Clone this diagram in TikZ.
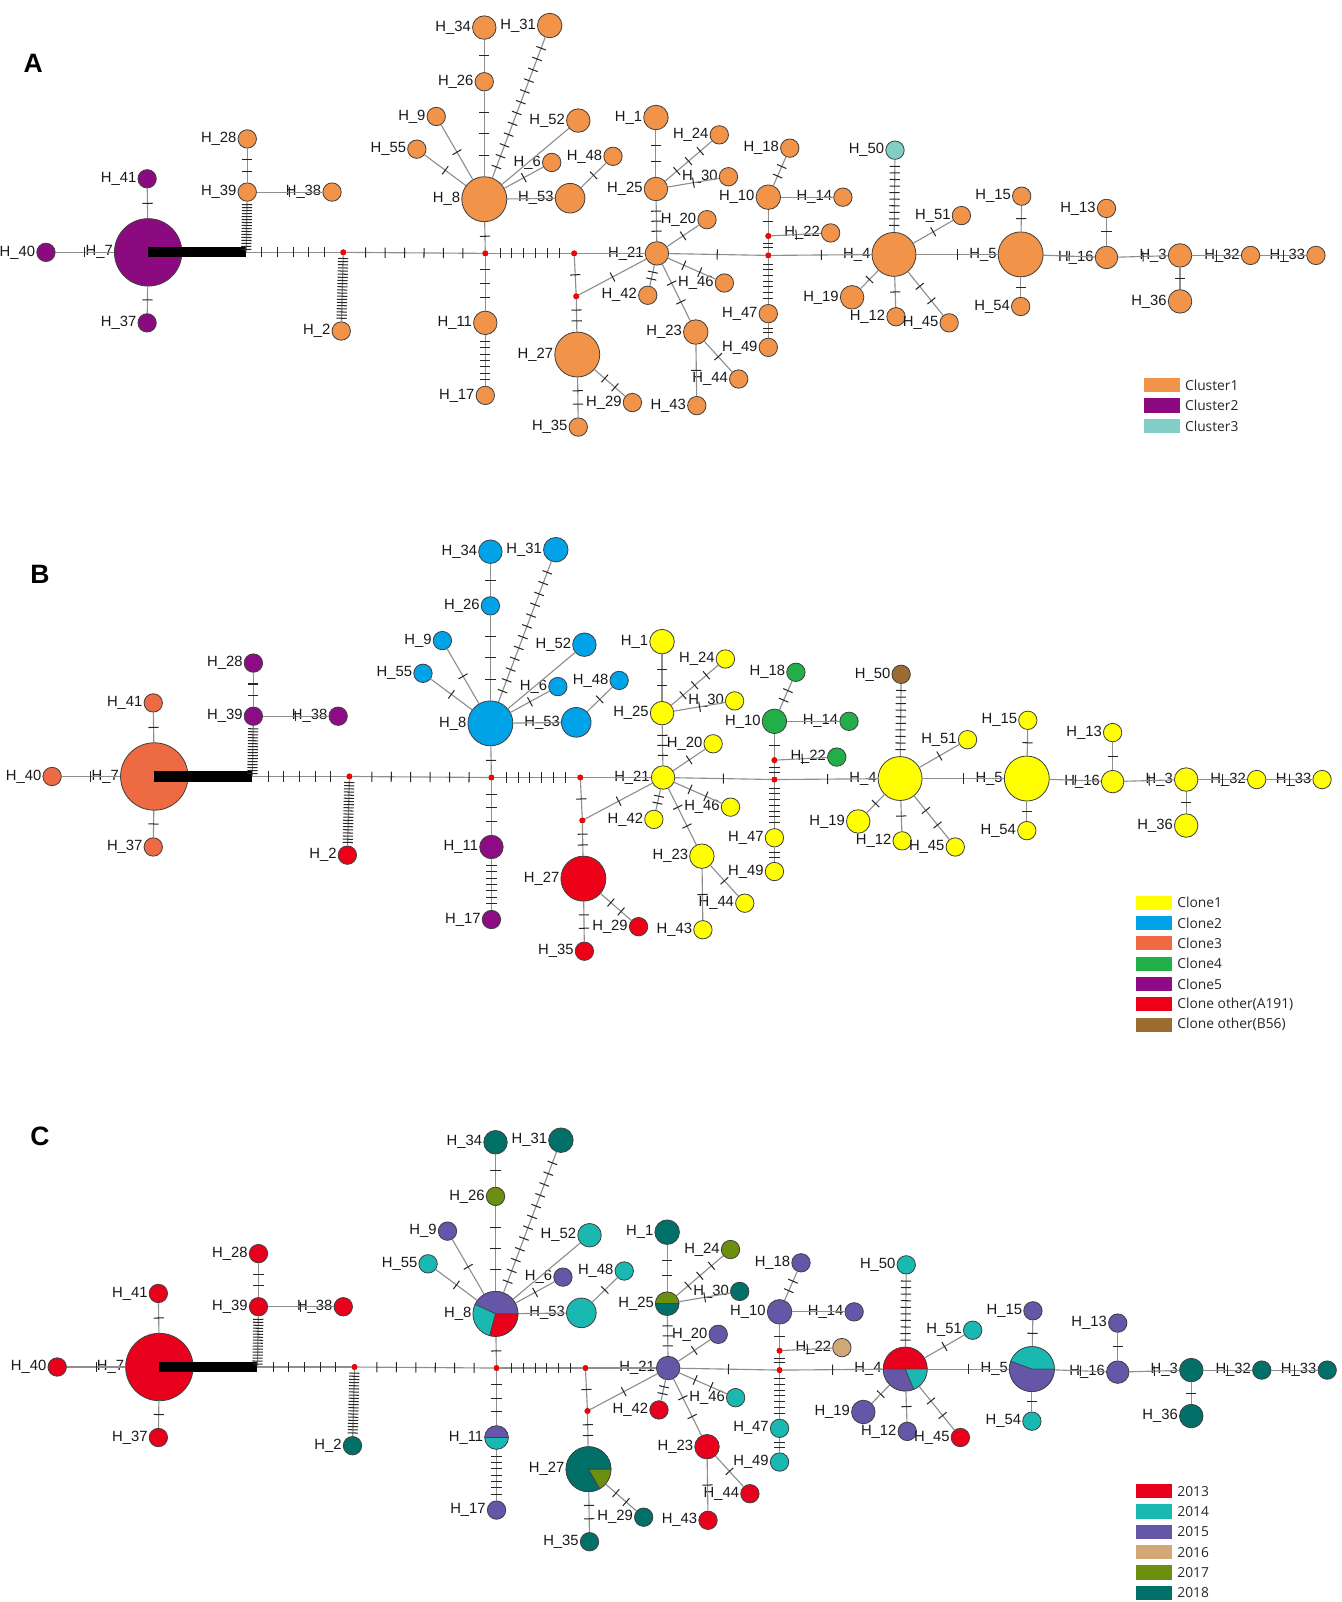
\documentclass[tikz,border=0pt]{standalone}
\usepackage{fontspec}
\setmainfont{Liberation Sans}
\newfontfamily\legfont{Open Sans}
\usepackage{tikz}
\usetikzlibrary{decorations.markings}
\definecolor{cluster1}{HTML}{F2934A}
\definecolor{cluster2}{HTML}{8C0A7F}
\definecolor{cluster3}{HTML}{82CEC6}
\definecolor{clone1}{HTML}{FFFF00}
\definecolor{clone2}{HTML}{00A2E8}
\definecolor{clone3}{HTML}{EE6A43}
\definecolor{clone4}{HTML}{22AF4A}
\definecolor{clone5}{HTML}{8E0B86}
\definecolor{a191}{HTML}{EE0018}
\definecolor{b56}{HTML}{9B6B31}
\definecolor{y2013}{HTML}{E8001D}
\definecolor{y2014}{HTML}{19B8B0}
\definecolor{y2015}{HTML}{6556A7}
\definecolor{y2016}{HTML}{D3A877}
\definecolor{y2017}{HTML}{6B8F0E}
\definecolor{y2018}{HTML}{007068}
\definecolor{linkgray}{HTML}{8E8E8E}
\colorlet{hapbase}{white}
\tikzset{
    hap/.style={circle, draw=black!75, line width=0.8pt, fill=hapbase, inner sep=0pt, minimum size=#1pt},
    mv/.style={circle, fill=red, draw=red!60!black, line width=0.3pt, inner sep=0pt, minimum size=5.5pt},
    lab/.style={font=\fontsize{14.5}{17}\selectfont, text=black!90, inner sep=1pt},
    link/.style={draw=linkgray, line width=1.1pt},
    mut/.style={link, postaction={decorate},
        decoration={markings, mark=between positions {1/(#1+1)} and {(#1+0.5)/(#1+1)} step {1/(#1+1)}
            with {\draw[black!85, line width=1pt] (0,-5pt) -- (0,5pt);}}},
    bar/.style={draw=black, line width=10pt},
    wedge/.style={draw=black!75, line width=0.6pt},
    paint/.style 2 args={f#1/.style={fill=#2}},
    key/.style={rectangle, inner sep=0pt, minimum width=35pt, minimum height=14pt},
    keytext/.style={anchor=west, font=\legfont\fontsize{13.5}{15}\selectfont, text=black!85, inner sep=0pt, xshift=5pt},
    panel/.style={font=\bfseries\fontsize{26}{28}\selectfont},
}

% one haplotype network, node names prefixed by #1
\newcommand{\hapnet}[1]{%
  % haplotypes
  \node[hap=66, f7/.try, label={[lab]left:H\_7}] (#1h7) at (145,247) {};
  \node[hap=18, f40/.try, label={[lab]left:H\_40}] (#1h40) at (45,247) {};
  \node[hap=18, f41/.try, label={[lab]left:H\_41}] (#1h41) at (144,175) {};
  \node[hap=18, f37/.try, label={[lab]left:H\_37}] (#1h37) at (144,316) {};
  \node[hap=18, f39/.try, label={[lab]left:H\_39}] (#1h39) at (242,188) {};
  \node[hap=18, f28/.try, label={[lab]left:H\_28}] (#1h28) at (242,136) {};
  \node[hap=18, f38/.try, label={[lab]left:H\_38}] (#1h38) at (325,188) {};
  \node[hap=18, f2/.try, label={[lab]left:H\_2}] (#1h2) at (334,324) {};
  \node[hap=44, f8/.try, label={[lab]left:H\_8}] (#1h8) at (474,195) {};
  \node[hap=18, f26/.try, label={[lab]left:H\_26}] (#1h26) at (474,80) {};
  \node[hap=23, f34/.try, label={[lab]left:H\_34}] (#1h34) at (474,27) {};
  \node[hap=24, f31/.try, label={[lab]left:H\_31}] (#1h31) at (538,25) {};
  \node[hap=18, f9/.try, label={[lab]left:H\_9}] (#1h9) at (427,114) {};
  \node[hap=18, f55/.try, label={[lab]left:H\_55}] (#1h55) at (408,146) {};
  \node[hap=23, f52/.try, label={[lab]left:H\_52}] (#1h52) at (566,118) {};
  \node[hap=18, f6/.try, label={[lab]left:H\_6}] (#1h6) at (540,159) {};
  \node[hap=18, f48/.try, label={[lab]left:H\_48}] (#1h48) at (600,153) {};
  \node[hap=29, f53/.try, label={[lab]left:H\_53}] (#1h53) at (558,194) {};
  \node[hap=23, f11/.try, label={[lab]left:H\_11}] (#1h11) at (475,316) {};
  \node[hap=18, f17/.try, label={[lab]left:H\_17}] (#1h17) at (475,387) {};
  \node[hap=44, f27/.try, label={[lab]left:H\_27}] (#1h27) at (565,347) {};
  \node[hap=18, f35/.try, label={[lab]left:H\_35}] (#1h35) at (566,418) {};
  \node[hap=18, f29/.try, label={[lab]left:H\_29}] (#1h29) at (619,394) {};
  \node[hap=23, f21/.try, label={[lab]left:H\_21}] (#1h21) at (643,248) {};
  \node[hap=23, f25/.try, label={[lab]left:H\_25}] (#1h25) at (642,185) {};
  \node[hap=24, f1/.try, label={[lab]left:H\_1}] (#1h1) at (642,115) {};
  \node[hap=18, f24/.try, label={[lab]left:H\_24}] (#1h24) at (704,132) {};
  \node[hap=18, f30/.try, label={[lab]left:H\_30}] (#1h30) at (713,173) {};
  \node[hap=18, f20/.try, label={[lab]left:H\_20}] (#1h20) at (692,215) {};
  \node[hap=18, f42/.try, label={[lab]left:H\_42}] (#1h42) at (634,289) {};
  \node[hap=18, f46/.try, label={[lab]left:H\_46}] (#1h46) at (709,277) {};
  \node[hap=24, f23/.try, label={[lab]left:H\_23}] (#1h23) at (681,325) {};
  \node[hap=18, f43/.try, label={[lab]left:H\_43}] (#1h43) at (682,397) {};
  \node[hap=18, f44/.try, label={[lab]left:H\_44}] (#1h44) at (723,371) {};
  \node[hap=24, f10/.try, label={[lab]left:H\_10}] (#1h10) at (752,193) {};
  \node[hap=18, f18/.try, label={[lab]left:H\_18}] (#1h18) at (773,145) {};
  \node[hap=18, f14/.try, label={[lab]left:H\_14}] (#1h14) at (825,193) {};
  \node[hap=18, f22/.try, label={[lab]left:H\_22}] (#1h22) at (813,228) {};
  \node[hap=18, f47/.try, label={[lab]left:H\_47}] (#1h47) at (752,307) {};
  \node[hap=18, f49/.try, label={[lab]left:H\_49}] (#1h49) at (752,340) {};
  \node[hap=43, f4/.try, label={[lab]left:H\_4}] (#1h4) at (875,249) {};
  \node[hap=18, f50/.try, label={[lab]left:H\_50}] (#1h50) at (876,147) {};
  \node[hap=18, f51/.try, label={[lab]left:H\_51}] (#1h51) at (941,211) {};
  \node[hap=23, f19/.try, label={[lab]left:H\_19}] (#1h19) at (834,291) {};
  \node[hap=18, f12/.try, label={[lab]left:H\_12}] (#1h12) at (877,310) {};
  \node[hap=18, f45/.try, label={[lab]left:H\_45}] (#1h45) at (929,316) {};
  \node[hap=44, f5/.try, label={[lab]left:H\_5}] (#1h5) at (999,249) {};
  \node[hap=18, f15/.try, label={[lab]left:H\_15}] (#1h15) at (1000,192) {};
  \node[hap=18, f54/.try, label={[lab]left:H\_54}] (#1h54) at (999,300) {};
  \node[hap=22, f16/.try, label={[lab]left:H\_16}] (#1h16) at (1083,252) {};
  \node[hap=18, f13/.try, label={[lab]left:H\_13}] (#1h13) at (1083,204) {};
  \node[hap=23, f3/.try, label={[lab]left:H\_3}] (#1h3) at (1155,250) {};
  \node[hap=23, f36/.try, label={[lab]left:H\_36}] (#1h36) at (1155,295) {};
  \node[hap=18, f32/.try, label={[lab]left:H\_32}] (#1h32) at (1224,250) {};
  \node[hap=18, f33/.try, label={[lab]left:H\_33}] (#1h33) at (1288,250) {};
  % median vectors
  \coordinate (#1j) at (241,247);
  \node[mv] (#1m1) at (336,247) {};
  \node[mv] (#1m2) at (475,248) {};
  \node[mv] (#1m3) at (562,248) {};
  \node[mv] (#1m4) at (564,290) {};
  \node[mv] (#1m5) at (752,250) {};
  \node[mv] (#1m6) at (752,231) {};
  % links, one tick per mutation
  \draw[mut=1] (#1h40) -- (#1h7);
  \draw[mut=1] (#1h41) -- (#1h7);
  \draw[mut=1] (#1h37) -- (#1h7);
  \draw[bar] (#1h7.center) -- (#1j);
  \draw[mut=16] (#1j) -- (#1h39);
  \draw[mut=2] (#1h39) -- (#1h28);
  \draw[mut=1] (#1h39) -- (#1h38);
  \draw[mut=5] (#1j) -- (#1m1);
  \draw[mut=20] (#1m1) -- (#1h2);
  \draw[mut=6] (#1m1) -- (#1m2);
  \draw[mut=1] (#1m2) -- (#1h8);
  \draw[mut=3] (#1h8) -- (#1h26);
  \draw[mut=1] (#1h26) -- (#1h34);
  \draw[mut=12] (#1h8) -- (#1h31);
  \draw[mut=1] (#1h8) -- (#1h9);
  \draw[mut=1] (#1h8) -- (#1h55);
  \draw[link] (#1h8) -- (#1h52);
  \draw[mut=1] (#1h8) -- (#1h6);
  \draw[link] (#1h8) -- (#1h53);
  \draw[mut=1] (#1h53) -- (#1h48);
  \draw[mut=3] (#1m2) -- (#1h11);
  \draw[mut=7] (#1h11) -- (#1h17);
  \draw[mut=6] (#1m2) -- (#1m3);
  \draw[link] (#1m3) -- (#1h21);
  \draw[mut=1] (#1m3) -- (#1m4);
  \draw[mut=2] (#1m4) -- (#1h27);
  \draw[mut=1] (#1m4) -- (#1h21);
  \draw[mut=2] (#1h27) -- (#1h35);
  \draw[mut=2] (#1h27) -- (#1h29);
  \draw[mut=3] (#1h21) -- (#1h25);
  \draw[mut=2] (#1h25) -- (#1h1);
  \draw[mut=3] (#1h25) -- (#1h24);
  \draw[mut=1] (#1h25) -- (#1h30);
  \draw[mut=1] (#1h21) -- (#1h20);
  \draw[mut=2] (#1h21) -- (#1h42);
  \draw[mut=2] (#1h21) -- (#1h46);
  \draw[mut=2] (#1h21) -- (#1h23);
  \draw[mut=1] (#1h23) -- (#1h43);
  \draw[mut=1] (#1h23) -- (#1h44);
  \draw[mut=1] (#1h21) -- (#1m5);
  \draw[mut=2] (#1m5) -- (#1m6);
  \draw[mut=1] (#1m6) -- (#1h10);
  \draw[mut=1] (#1m6) -- (#1h22);
  \draw[mut=2] (#1h10) -- (#1h18);
  \draw[link] (#1h10) -- (#1h14);
  \draw[mut=7] (#1m5) -- (#1h47);
  \draw[mut=2] (#1h47) -- (#1h49);
  \draw[mut=1] (#1m5) -- (#1h4);
  \draw[mut=10] (#1h4) -- (#1h50);
  \draw[mut=1] (#1h4) -- (#1h51);
  \draw[mut=1] (#1h4) -- (#1h19);
  \draw[mut=1] (#1h4) -- (#1h12);
  \draw[mut=2] (#1h4) -- (#1h45);
  \draw[mut=1] (#1h4) -- (#1h5);
  \draw[mut=1] (#1h5) -- (#1h15);
  \draw[mut=1] (#1h5) -- (#1h54);
  \draw[mut=1] (#1h5) -- (#1h16);
  \draw[mut=1] (#1h16) -- (#1h13);
  \draw[mut=1] (#1h16) -- (#1h3);
  \draw[mut=1] (#1h3) -- (#1h36);
  \draw[mut=1] (#1h3) -- (#1h32);
  \draw[mut=1] (#1h32) -- (#1h33);
}

\begin{document}
\begin{tikzpicture}[x=1pt, y=-1pt]
\useasboundingbox (0,0) rectangle (1313,1568);

% A: clusters
\node[panel] (pa) at (32.6,62) {A};
\begin{scope}[paint={7}{cluster2}, paint={40}{cluster2}, paint={41}{cluster2},
    paint={37}{cluster2}, paint={50}{cluster3}]
  \colorlet{hapbase}{cluster1}
  \hapnet{a}
\end{scope}
\foreach \c/\t [count=\i] in {cluster1/Cluster1, cluster2/Cluster2, cluster3/Cluster3} {
  \node[key, fill=\c] (ka\i) at (1137, 356.6+20.2*\i) {};
  \node[keytext] (ta\i) at (ka\i.east) {\t};
}

% B: clones
\node[panel] (pb) at (39,562) {B};
\begin{scope}[shift={(6,513)},
    paint={7}{clone3}, paint={40}{clone3}, paint={41}{clone3}, paint={37}{clone3},
    paint={28}{clone5}, paint={39}{clone5}, paint={38}{clone5}, paint={11}{clone5}, paint={17}{clone5},
    paint={2}{a191}, paint={27}{a191}, paint={35}{a191}, paint={29}{a191},
    paint={8}{clone2}, paint={34}{clone2}, paint={31}{clone2}, paint={26}{clone2}, paint={9}{clone2},
    paint={55}{clone2}, paint={52}{clone2}, paint={6}{clone2}, paint={48}{clone2}, paint={53}{clone2},
    paint={10}{clone4}, paint={18}{clone4}, paint={14}{clone4}, paint={22}{clone4},
    paint={50}{b56}]
  \colorlet{hapbase}{clone1}
  \hapnet{b}
\end{scope}
\foreach \c/\t [count=\i] in {clone1/Clone1, clone2/Clone2, clone3/Clone3, clone4/Clone4,
    clone5/Clone5, a191/Clone other(A191), b56/Clone other(B56)} {
  \node[key, fill=\c] (kb\i) at (1129.5, 863.6+19.9*\i) {};
  \node[keytext] (tb\i) at (kb\i.east) {\t};
}

% C: years
\node[panel] (pc) at (39,1112) {C};
\begin{scope}[shift={(11,1091)},
    paint={40}{y2013}, paint={41}{y2013}, paint={7}{y2013}, paint={37}{y2013}, paint={28}{y2013},
    paint={39}{y2013}, paint={38}{y2013}, paint={42}{y2013}, paint={23}{y2013}, paint={43}{y2013},
    paint={44}{y2013}, paint={45}{y2013},
    paint={2}{y2018}, paint={34}{y2018}, paint={31}{y2018}, paint={35}{y2018}, paint={29}{y2018},
    paint={1}{y2018}, paint={30}{y2018}, paint={3}{y2018}, paint={36}{y2018}, paint={32}{y2018},
    paint={33}{y2018},
    paint={26}{y2017}, paint={24}{y2017},
    paint={55}{y2014}, paint={52}{y2014}, paint={48}{y2014}, paint={53}{y2014}, paint={46}{y2014},
    paint={47}{y2014}, paint={49}{y2014}, paint={50}{y2014}, paint={51}{y2014}, paint={54}{y2014},
    paint={22}{y2016}]
  \colorlet{hapbase}{y2015}
  \hapnet{c}
  % mixed haplotypes
  \filldraw[wedge, fill=y2015] (ch8.center) -- ++(0:22pt) arc[start angle=0, end angle=155, radius=22pt] -- cycle;
  \filldraw[wedge, fill=y2014] (ch8.center) -- ++(155:22pt) arc[start angle=155, end angle=255, radius=22pt] -- cycle;
  \filldraw[wedge, fill=y2013] (ch8.center) -- ++(255:22pt) arc[start angle=255, end angle=360, radius=22pt] -- cycle;
  \filldraw[wedge, fill=y2015] (ch11.center) -- ++(0:11.5pt) arc[start angle=0, end angle=180, radius=11.5pt] -- cycle;
  \filldraw[wedge, fill=y2014] (ch11.center) -- ++(180:11.5pt) arc[start angle=180, end angle=360, radius=11.5pt] -- cycle;
  \filldraw[wedge, fill=y2018] (ch27.center) -- ++(0:22pt) arc[start angle=0, end angle=300, radius=22pt] -- cycle;
  \filldraw[wedge, fill=y2017] (ch27.center) -- ++(300:22pt) arc[start angle=300, end angle=360, radius=22pt] -- cycle;
  \filldraw[wedge, fill=y2017] (ch25.center) -- ++(0:11.5pt) arc[start angle=0, end angle=180, radius=11.5pt] -- cycle;
  \filldraw[wedge, fill=y2018] (ch25.center) -- ++(180:11.5pt) arc[start angle=180, end angle=360, radius=11.5pt] -- cycle;
  \filldraw[wedge, fill=y2013] (ch4.center) -- ++(0:21.5pt) arc[start angle=0, end angle=180, radius=21.5pt] -- cycle;
  \filldraw[wedge, fill=y2015] (ch4.center) -- ++(180:21.5pt) arc[start angle=180, end angle=293, radius=21.5pt] -- cycle;
  \filldraw[wedge, fill=y2014] (ch4.center) -- ++(293:21.5pt) arc[start angle=293, end angle=360, radius=21.5pt] -- cycle;
  \filldraw[wedge, fill=y2014] (ch5.center) -- ++(0:22pt) arc[start angle=0, end angle=160, radius=22pt] -- cycle;
  \filldraw[wedge, fill=y2015] (ch5.center) -- ++(160:22pt) arc[start angle=160, end angle=360, radius=22pt] -- cycle;
\end{scope}
\foreach \c/\t [count=\i] in {y2013/2013, y2014/2014, y2015/2015, y2016/2016, y2017/2017, y2018/2018} {
  \node[key, fill=\c] (kc\i) at (1129.5, 1439.7+19.9*\i) {};
  \node[keytext] (tc\i) at (kc\i.east) {\t};
}
\end{tikzpicture}
\end{document}
